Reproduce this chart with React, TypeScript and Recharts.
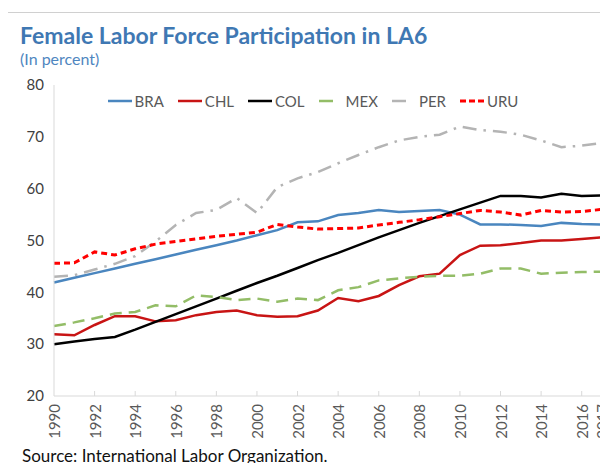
import React from 'react';
import { LineChart, Line, XAxis, YAxis, Legend } from 'recharts';

// categories and values
const years = [
    '1990', '1991', '1992', '1993', '1994', '1995', '1996', '1997', '1998', '1999',
    '2000', '2001', '2002', '2003', '2004', '2005', '2006', '2007', '2008', '2009',
    '2010', '2011', '2012', '2013', '2014', '2015', '2016', '2017',
];
const bra = [41.9, 42.8, 43.7, 44.6, 45.5, 46.4, 47.3, 48.2, 49.1, 50.0, 51.0, 52.0, 53.5, 53.7, 54.9, 55.3, 55.9, 55.5, 55.7, 55.9, 55.0, 53.1, 53.1, 53.0, 52.8, 53.4, 53.2, 53.1];
const chl = [31.9, 31.7, 33.7, 35.4, 35.4, 34.4, 34.6, 35.6, 36.2, 36.5, 35.6, 35.3, 35.4, 36.5, 38.9, 38.3, 39.3, 41.4, 43.1, 43.6, 47.2, 49.0, 49.1, 49.5, 50.0, 50.0, 50.3, 50.6];
const col = [30.0, 30.5, 31.0, 31.4, 32.8, 34.3, 35.8, 37.3, 38.8, 40.3, 41.8, 43.2, 44.7, 46.2, 47.6, 49.1, 50.6, 52.0, 53.4, 54.7, 56.0, 57.3, 58.6, 58.6, 58.3, 59.0, 58.6, 58.7];
const mex = [33.5, 34.2, 35.0, 35.9, 36.2, 37.5, 37.3, 39.4, 39.1, 38.5, 38.8, 38.2, 38.8, 38.5, 40.4, 41.0, 42.3, 42.7, 43.0, 43.2, 43.2, 43.6, 44.6, 44.6, 43.6, 43.8, 43.9, 44.0];
const per = [43.0, 43.3, 44.4, 45.5, 47.0, 49.8, 53.0, 55.3, 55.9, 58.2, 55.3, 60.3, 62.0, 63.2, 64.9, 66.5, 68.0, 69.3, 70.0, 70.4, 72.0, 71.3, 71.0, 70.4, 69.3, 68.0, 68.3, 68.8];
const uru = [45.6, 45.7, 47.8, 47.2, 48.4, 49.3, 49.8, 50.3, 50.8, 51.2, 51.6, 53.1, 52.6, 52.2, 52.3, 52.4, 53.0, 53.5, 54.0, 54.6, 55.2, 55.8, 55.5, 54.9, 55.8, 55.5, 55.6, 56.0];
const yTicks = [20, 30, 40, 50, 60, 70, 80];

const series = [
    { key: 'BRA', color: '#4a86bf', dash: undefined, icon: undefined, width: 2.5 },
    { key: 'CHL', color: '#c81414', dash: undefined, icon: undefined, width: 2.5 },
    { key: 'COL', color: '#000000', dash: undefined, icon: undefined, width: 2.5 },
    { key: 'MEX', color: '#93bd67', dash: '12 7', icon: '14 20', width: 2.5 },
    { key: 'PER', color: '#b4b4b4', dash: '14 7 2.5 7', icon: '14 20', width: 2.5 },
    { key: 'URU', color: '#ff0000', dash: '6 4', icon: '6 3', width: 3 },
];

const data = years.map((year, i) => ({
    year,
    BRA: bra[i],
    CHL: chl[i],
    COL: col[i],
    MEX: mex[i],
    PER: per[i],
    URU: uru[i],
}));

const FONT = 'Lato, "Open Sans", sans-serif';
const AXIS_GREY = '#d9d9d9';

// Excel style: labels every 2 years (plus the last), tick marks on category boundaries
const XTick = (props: any) => {
    const { x, y, payload } = props;
    const yr = Number(payload.value);
    const showLabel = yr % 2 === 0 || yr === 2017;
    const bx = x - (payload.offset || 0);
    return (
        <g>
            {yr % 2 === 0 && yr > 1990 && (
                <line x1={bx} x2={bx} y1={y} y2={y - 5} stroke={AXIS_GREY} strokeWidth={1} />
            )}
            {showLabel && (
                <text
                    x={x}
                    y={y + 8}
                    transform={`rotate(-90, ${x}, ${y + 8})`}
                    textAnchor="end"
                    dominantBaseline="central"
                    fill="#595959"
                    fontSize={15}
                    fontFamily={FONT}
                >
                    {payload.value}
                </text>
            )}
        </g>
    );
};

const renderLegend = () => (
    <div style={{ display: 'flex', justifyContent: 'center', gap: 14, fontFamily: FONT, fontSize: 15, color: '#595959' }}>
        {series.map((s) => (
            <div key={s.key} style={{ display: 'flex', alignItems: 'center' }}>
                <svg width={24} height={10} style={{ marginRight: 3 }}>
                    <line x1={0} x2={24} y1={5} y2={5} stroke={s.color} strokeWidth={s.width} strokeDasharray={s.icon} />
                </svg>
                <span>{s.key}</span>
            </div>
        ))}
    </div>
);

export default function App() {
    return (
        <div style={{ position: 'relative', width: 600, height: 455, fontFamily: FONT }}>
            {/* outer frame, only top and left edges are visible in the crop */}
            <div style={{ position: 'absolute', left: -1, top: 4, width: 620, height: 470, borderTop: '1px solid #d0d0d0', borderLeft: '1px solid #d0d0d0' }} />
            <div style={{ position: 'absolute', left: 12, top: 13, fontSize: 23, fontWeight: 700, color: '#3f78b3', whiteSpace: 'nowrap' }}>
                Female Labor Force Participation in LA6
            </div>
            <div style={{ position: 'absolute', left: 12, top: 41, fontSize: 16, color: '#4f86c0', whiteSpace: 'nowrap' }}>
                (In percent)
            </div>
            <div style={{ position: 'absolute', left: 0, top: 0 }}>
                <LineChart width={600} height={455} data={data} margin={{ top: 77, right: 6, left: 6, bottom: 17 }}>
                    <XAxis
                        dataKey="year"
                        interval={0}
                        tick={<XTick />}
                        tickLine={false}
                        tickSize={0}
                        tickMargin={0}
                        height={50}
                        axisLine={{ stroke: AXIS_GREY }}
                    />
                    <XAxis xAxisId="top" dataKey="year" orientation="top" tick={false} tickLine={false} height={0} axisLine={{ stroke: AXIS_GREY }} />
                    <YAxis
                        domain={[20, 80]}
                        ticks={yTicks}
                        tickLine={false}
                        tickSize={0}
                        tickMargin={10}
                        width={40}
                        axisLine={{ stroke: AXIS_GREY }}
                        tick={{ fill: '#404040', fontSize: 15, fontFamily: FONT }}
                    />
                    <YAxis yAxisId="right" orientation="right" domain={[20, 80]} tick={false} tickLine={false} width={0} axisLine={{ stroke: AXIS_GREY }} />
                    <Legend
                        verticalAlign="middle"
                        layout="horizontal"
                        content={renderLegend}
                        wrapperStyle={{ top: 84, left: 55, width: 500 }}
                    />
                    {series.map((s) => (
                        <Line
                            key={s.key}
                            type="linear"
                            dataKey={s.key}
                            stroke={s.color}
                            strokeWidth={s.width}
                            strokeDasharray={s.dash}
                            dot={false}
                            activeDot={false}
                            isAnimationActive={false}
                        />
                    ))}
                </LineChart>
            </div>
            <div style={{ position: 'absolute', left: 14, top: 437, fontSize: 17, color: '#111', whiteSpace: 'nowrap' }}>
                Source: International Labor Organization.
            </div>
        </div>
    );
}
